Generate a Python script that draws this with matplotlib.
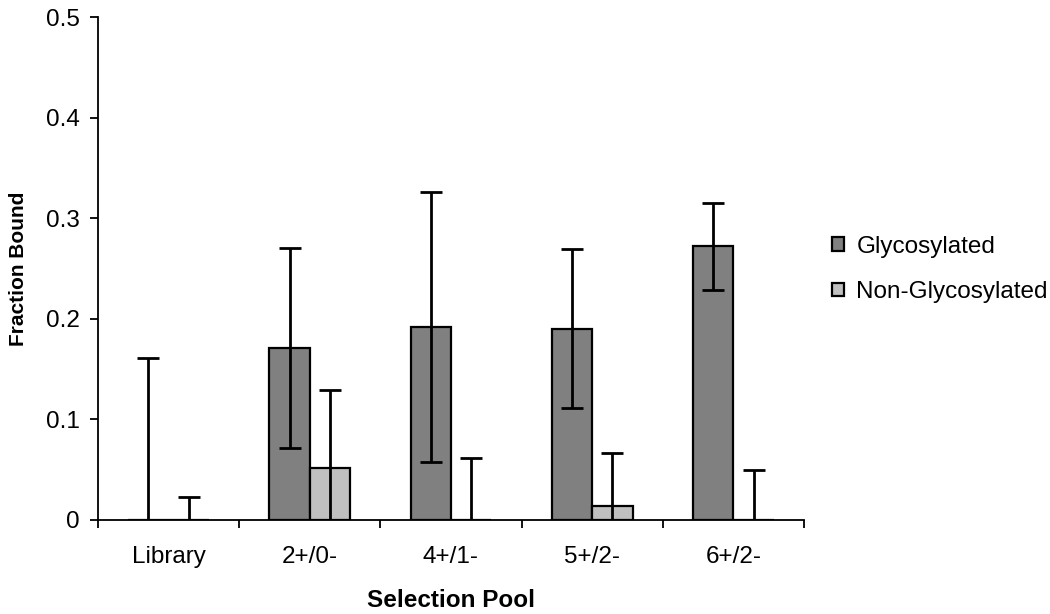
import numpy as np
import matplotlib
matplotlib.use('Agg')
import matplotlib.pyplot as plt

#%% data
pools = ['Library', '2+/0-', '4+/1-', '5+/2-', '6+/2-']
glyco = [0.0, 0.171, 0.192, 0.190, 0.272]
glyco_err = [0.161, 0.099, 0.134, 0.079, 0.043]
nonglyco = [0.0, 0.052, 0.0, 0.014, 0.0]
nonglyco_err = [0.023, 0.077, 0.062, 0.053, 0.050]

#%% plot parameters
plt.rcParams['font.family'] = ['Liberation Sans', 'DejaVu Sans']
plt.rc('xtick', labelsize=17.5)
plt.rc('ytick', labelsize=17.5)

fig = plt.figure(figsize=[10.5, 6.14], dpi=100)
ax = fig.add_axes([0.0933, 0.1531, 0.6724, 0.8192])

x = np.arange(len(pools))
w = 0.2857
err_kw = dict(ecolor='k', elinewidth=2.0, capsize=8, capthick=2.0)
ax.bar(x - w/2, glyco, w, color='#808080', edgecolor='k', linewidth=1.6,
       yerr=glyco_err, error_kw=err_kw, label='Glycosylated', zorder=2)
ax.bar(x + w/2, nonglyco, w, color='#C0C0C0', edgecolor='k', linewidth=1.6,
       yerr=nonglyco_err, error_kw=err_kw, label='Non-Glycosylated', zorder=2)

ax.set_xlim(-0.5, 4.5)
ax.set_ylim(0, 0.5)
ax.set_yticks([0, 0.1, 0.2, 0.3, 0.4, 0.5])
ax.set_yticklabels(['0', '0.1', '0.2', '0.3', '0.4', '0.5'])
ax.set_xticks(x)
ax.set_xticklabels(pools)
ax.set_xticks(np.arange(-0.5, 5, 1), minor=True)
ax.tick_params(axis='x', which='major', length=0, pad=19)
ax.tick_params(axis='x', which='minor', length=6, width=1.3, direction='out')
ax.tick_params(axis='y', length=6, width=1.3, direction='out', pad=7)

for s in ['top', 'right']:
    ax.spines[s].set_visible(False)
for s in ['left', 'bottom']:
    ax.spines[s].set_linewidth(1.3)

ax.set_xlabel('Selection Pool', fontsize=17.5, fontweight='bold', labelpad=15)
ax.set_ylabel('Fraction Bound', fontsize=15, fontweight='bold', labelpad=13)

fig.legend(loc='upper left', bbox_to_anchor=(0.7924, 0.6156), frameon=False,
           fontsize=17.5, handlelength=0.5, handleheight=0.5, handletextpad=0.5,
           labelspacing=0.95, borderaxespad=0, borderpad=0)

fig.savefig('out.png', dpi=100)
